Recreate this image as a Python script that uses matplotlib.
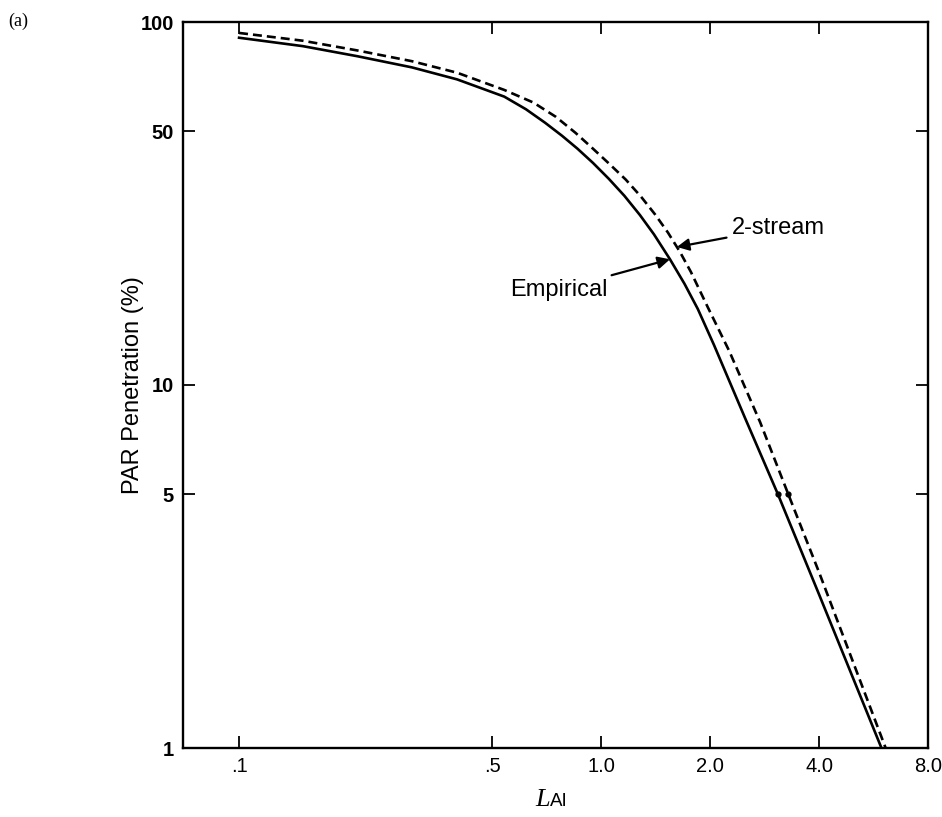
import matplotlib
matplotlib.use("Agg")
import matplotlib.pyplot as plt
from matplotlib.ticker import FixedLocator, FixedFormatter, NullLocator

# ---- data ----
emp_x = [0.1, 0.15, 0.212, 0.3, 0.4, 0.54, 0.62, 0.7, 0.78, 0.86, 0.95, 1.05, 1.16,
         1.28, 1.4, 1.55, 1.7, 1.85, 2.05, 2.5, 3.08, 4.0, 5.95]
emp_y = [90.5, 85.8, 80.5, 75.0, 69.5, 62.3, 57.5, 52.8, 48.6, 44.8, 40.9, 37.0, 33.2,
         29.4, 26.0, 22.2, 19.0, 16.2, 12.9, 8.1, 5.0, 2.65, 1.0]

two_x = [0.1, 0.15, 0.212, 0.3, 0.4, 0.54, 0.65, 0.75, 0.85, 0.94, 1.05, 1.17, 1.29,
         1.41, 1.53, 1.65, 1.77, 1.97, 2.26, 2.75, 3.29, 4.0, 6.11]
two_y = [93.3, 88.8, 83.5, 78.0, 72.5, 65.0, 60.0, 54.8, 49.5, 45.2, 40.8, 36.8, 33.0,
         29.5, 26.3, 23.3, 20.5, 16.4, 12.4, 7.9, 5.0, 3.05, 1.0]

dot_x = [3.08, 3.29]
dot_y = [5.0, 5.0]

x_ticks = [0.1, 0.5, 1.0, 2.0, 4.0, 8.0]
x_ticklabels = [".1", ".5", "1.0", "2.0", "4.0", "8.0"]
y_ticks = [1, 5, 10, 50, 100]
y_ticklabels = ["1", "5", "10", "50", "100"]

W, H = 942, 817
fig = plt.figure(figsize=(W / 100, H / 100), dpi=100)
L, R, T, B = 183, 928, 22, 748
ax = fig.add_axes([L / W, 1 - B / H, (R - L) / W, (B - T) / H])
ax.set_xscale("log")
ax.set_yscale("log")

ax.plot(emp_x, emp_y, color="black", lw=1.9, solid_joinstyle="round")
ax.plot(two_x, two_y, color="black", lw=1.9, dashes=(3.4, 1.9))
ax.plot(dot_x, dot_y, "o", color="black", ms=3.5)

ax.set_xlim(0.07, 8.0)
ax.set_ylim(1, 100)

ax.xaxis.set_major_locator(FixedLocator(x_ticks))
ax.xaxis.set_major_formatter(FixedFormatter(x_ticklabels))
ax.xaxis.set_minor_locator(NullLocator())
ax.yaxis.set_major_locator(FixedLocator(y_ticks))
ax.yaxis.set_major_formatter(FixedFormatter(y_ticklabels))
ax.yaxis.set_minor_locator(NullLocator())

ax.tick_params(which="both", direction="in", top=True, right=True,
               length=8.6, width=1.3, pad=6.5, colors="black")
for lab in ax.get_xticklabels():
    lab.set_fontfamily("Liberation Sans")
    lab.set_fontsize(14.5)
for lab in ax.get_yticklabels():
    lab.set_fontfamily("Liberation Sans")
    lab.set_fontsize(14.5)
    lab.set_fontweight("bold")

for sp in ax.spines.values():
    sp.set_linewidth(1.7)
    sp.set_color("black")

ax.set_ylabel("PAR Penetration (%)", fontsize=17, family="Liberation Sans")
ax.yaxis.set_label_coords(-0.052, 0.5)

# x label: italic serif "L" followed by sans "AI"
ax.text(0.4926, -0.0799, "L", transform=ax.transAxes, ha="right", va="baseline",
        family="Liberation Serif", style="italic", fontsize=19)
ax.text(0.4926, -0.0799, "AI", transform=ax.transAxes, ha="left", va="baseline",
        family="Liberation Sans", fontsize=13.5)

ap = dict(arrowstyle="-|>", color="black", lw=1.6, mutation_scale=18,
          shrinkA=2, shrinkB=0)
ax.annotate("2-stream", xy=(1.62, 24.0), xytext=(2.3, 27.1), ha="left", va="center",
            fontsize=17, family="Liberation Sans", arrowprops=ap)
ax.annotate("Empirical", xy=(1.55, 22.2), xytext=(1.04, 18.3), ha="right", va="center",
            fontsize=17, family="Liberation Sans", arrowprops=ap)

fig.text(8 / W, 1 - 21 / H, "(a)", ha="left", va="center", fontsize=13,
         family="Liberation Serif")

fig.savefig("out.png", dpi=100)
